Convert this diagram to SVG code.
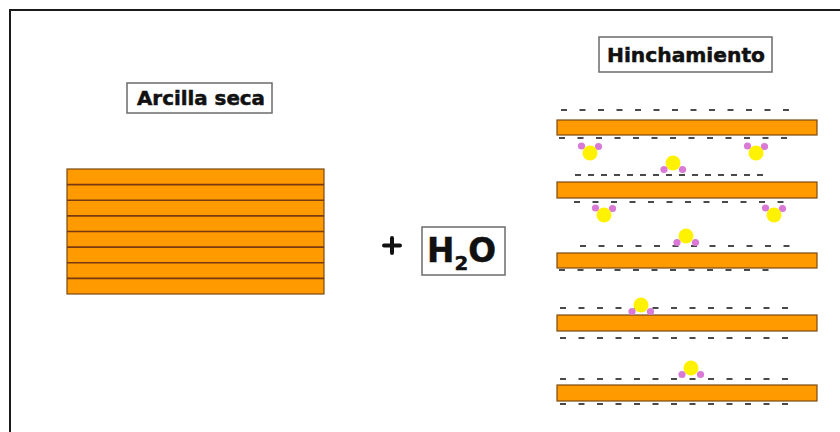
<svg xmlns="http://www.w3.org/2000/svg" width="840" height="432" viewBox="0 0 840 432">
  <style>
    .frame { fill: none; stroke: #1a1a1a; stroke-width: 2; }
    .label-box { fill: #ffffff; stroke: #6b6b6b; stroke-width: 1.5; }
    .label { font-family: "DejaVu Sans", "Verdana", sans-serif; font-weight: bold; fill: #111111; stroke: #111111; stroke-width: 0.5; }
    .layer { fill: #FF9A00; stroke: #7a4a12; stroke-width: 1.2; }
    .seam { stroke: #7a3a10; stroke-width: 1.6; }
    .charge { stroke: #4a4a4a; stroke-width: 2.2; }
    .oxygen { fill: #FFF200; }
    .hydrogen { fill: #D97BD6; }
    .plus { stroke: #111111; stroke-width: 4; stroke-linecap: round; }
  </style>
  <defs>
    <!-- water molecule, hydrogens pointing up -->
    <g id="water-up">
      <circle class="hydrogen" cx="-8.5" cy="-7" r="3.6"/>
      <circle class="hydrogen" cx="8.5" cy="-6.5" r="3.6"/>
      <circle class="oxygen" cx="0" cy="0" r="7.5"/>
    </g>
    <!-- water molecule, hydrogens pointing down -->
    <g id="water-down">
      <circle class="oxygen" cx="0" cy="0" r="7.5"/>
      <circle class="hydrogen" cx="-9" cy="6.5" r="3.6"/>
      <circle class="hydrogen" cx="9.5" cy="6.5" r="3.6"/>
    </g>
    <!-- rows of negative surface charges -->
    <path id="charges13" class="charge" d="M0 0h6M18.5 0h6M37 0h6M55.5 0h6M74 0h6M92.5 0h6M111 0h6M129.5 0h6M148 0h6M166.5 0h6M185 0h6M203.5 0h6M222 0h6"/>
    <path id="charges12" class="charge" d="M0 0h6M18.5 0h6M37 0h6M55.5 0h6M74 0h6M92.5 0h6M111 0h6M129.5 0h6M148 0h6M166.5 0h6M185 0h6M203.5 0h6"/>
    <path id="charges15" class="charge" d="M0 0h6M13 0h6M26 0h6M39 0h6M52 0h6M65 0h6M78 0h6M91 0h6M104 0h6M117 0h6M130 0h6M143 0h6M156 0h6M169 0h6M182 0h6"/>
  </defs>

  <!-- page frame -->
  <path class="frame" d="M10 440V10H842"/>

  <!-- dry clay: stacked sheets -->
  <g id="arcilla-seca">
    <rect class="label-box" x="127" y="83" width="145" height="30"/>
    <text class="label" x="137" y="105" font-size="19.5" textLength="128" lengthAdjust="spacingAndGlyphs">Arcilla seca</text>
  </g>
  <g id="dry-stack">
    <rect class="layer" x="67" y="169" width="257" height="125"/>
    <line class="seam" x1="67" y1="184.6" x2="324" y2="184.6"/>
    <line class="seam" x1="67" y1="200.2" x2="324" y2="200.2"/>
    <line class="seam" x1="67" y1="215.9" x2="324" y2="215.9"/>
    <line class="seam" x1="67" y1="231.5" x2="324" y2="231.5"/>
    <line class="seam" x1="67" y1="247.1" x2="324" y2="247.1"/>
    <line class="seam" x1="67" y1="262.7" x2="324" y2="262.7"/>
    <line class="seam" x1="67" y1="278.4" x2="324" y2="278.4"/>
  </g>

  <!-- plus water -->
  <g id="plus">
    <line class="plus" x1="384" y1="245.5" x2="400" y2="245.5"/>
    <line class="plus" x1="392" y1="238" x2="392" y2="253"/>
  </g>
  <g id="h2o">
    <rect class="label-box" x="422" y="227" width="83" height="48"/>
    <text class="label" x="427" y="262" font-size="33" textLength="69" lengthAdjust="spacingAndGlyphs">H<tspan dy="8" font-size="20">2</tspan><tspan dy="-8">O</tspan></text>
  </g>

  <!-- swollen clay: separated sheets with adsorbed water -->
  <g id="hinchamiento">
    <rect class="label-box" x="599" y="37" width="173" height="35"/>
    <text class="label" x="607" y="62" font-size="20" textLength="158" lengthAdjust="spacingAndGlyphs">Hinchamiento</text>
  </g>

  <g id="sheet-1">
    <use href="#charges13" x="561" y="110"/>
    <rect class="layer" x="557" y="120" width="260" height="15"/>
    <use href="#charges13" x="559" y="138"/>
  </g>
  <g id="sheet-2">
    <use href="#charges15" x="575" y="175"/>
    <rect class="layer" x="557" y="182" width="260" height="16"/>
    <use href="#charges12" x="574" y="202"/>
  </g>
  <g id="sheet-3">
    <use href="#charges12" x="580" y="246"/>
    <rect class="layer" x="557" y="253" width="260" height="15"/>
    <use href="#charges12" x="559" y="270"/>
  </g>
  <g id="sheet-4">
    <use href="#charges13" x="560" y="308"/>
    <rect class="layer" x="557" y="315" width="260" height="16"/>
    <use href="#charges13" x="560" y="338"/>
  </g>
  <g id="sheet-5">
    <use href="#charges13" x="560" y="379"/>
    <rect class="layer" x="557" y="385" width="260" height="16"/>
    <use href="#charges13" x="560" y="404"/>
  </g>

  <g id="water-molecules">
    <use href="#water-up" x="590" y="153"/>
    <use href="#water-up" x="756" y="153"/>
    <use href="#water-down" x="673" y="163"/>
    <use href="#water-up" x="604" y="215"/>
    <use href="#water-up" x="774" y="215"/>
    <use href="#water-down" x="686" y="236"/>
    <use href="#water-down" x="641" y="305"/>
    <use href="#water-down" x="691" y="368"/>
  </g>
</svg>
